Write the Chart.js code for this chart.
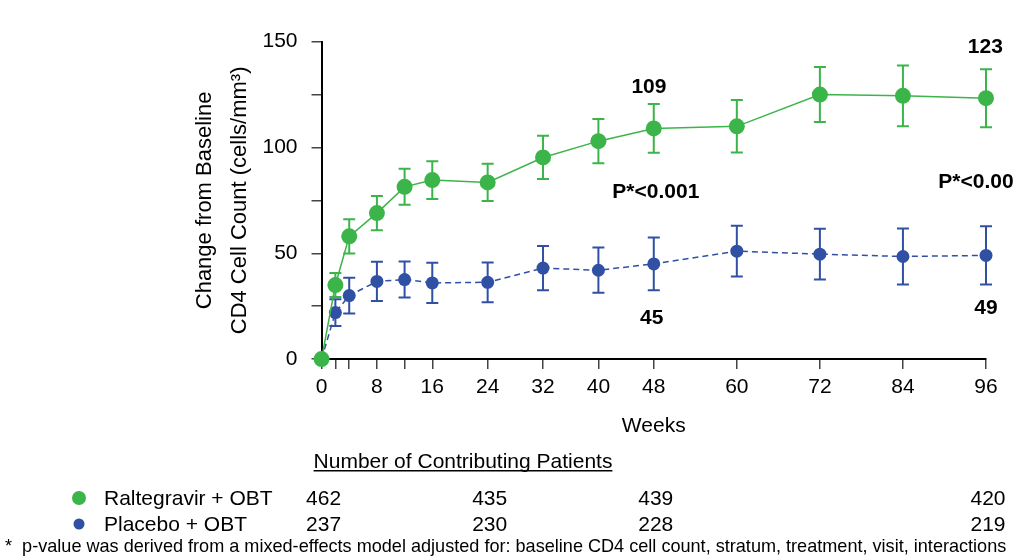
<!DOCTYPE html>
<html>
<head>
<meta charset="utf-8">
<script src="https://cdn.jsdelivr.net/npm/chart.js@4"></script>
<style>
  body { margin: 0; background: #fff; }
  #wrap { width: 1015px; height: 559px; }
</style>
</head>
<body>
<div id="wrap"><canvas id="cd4Chart" width="1015" height="559"></canvas></div>
<script>
// weeks where values were measured (also where x tick marks go)
var weeks = [0, 2, 4, 8, 12, 16, 24, 32, 40, 48, 60, 72, 84, 96];
var labelWeeks = [0, 8, 16, 24, 32, 40, 48, 60, 72, 84, 96];

// mean change from baseline, and half-length of the error bars
var raltMean = [0, 35, 58, 69, 81.4, 84.6, 83.5, 95.3, 103, 109, 110, 125, 124.4, 123.3];
var raltErr  = [0, 5.7, 8.1, 8.1, 8.5, 8.9, 8.8, 10.2, 10.5, 11.5, 12.4, 13, 14.4, 13.7];
var placMean = [0, 22, 30, 36.7, 37.6, 36, 36.3, 43, 42, 45, 51, 49.6, 48.5, 49];
var placErr  = [0, 6.3, 8.5, 9.3, 8.5, 9.5, 9.4, 10.5, 10.7, 12.5, 12, 12, 13.2, 13.8];

// number of contributing patients
var tableWeeks = [0, 24, 48, 96];
var raltN = [462, 435, 439, 420];
var placN = [237, 230, 228, 219];

// bold notes written on the plot
var noteText  = ['109', 'P*<0.001', '45', '123', 'P*<0.001', '49'];
var noteWeek  = [47.3, 48.3, 47.7, 95.9, 95.4, 96];
var noteValue = [128.5, 79, 19.2, 147.4, 83.8, 24];

var green = '#3bb54a';
var blue = '#3050a3';
var font = 'Arial, "Liberation Sans", sans-serif';

const toPts = (xs, ys) => xs.map((x, i) => ({x: x, y: ys[i]}));

// error bars for one dataset, drawn just before its line and points
const errorBars = {
    id: 'errorBars',
    beforeDatasetDraw: (chart, args) => {
        let ds = chart.data.datasets[args.index];
        let ctx = chart.ctx;
        let xs = chart.scales.x, ys = chart.scales.y;
        ctx.save();
        ctx.strokeStyle = ds.borderColor;
        ctx.lineWidth = 2;
        ds.data.forEach((p, i) => {
            let e = ds.errors[i];
            if (!e) return;
            let px = xs.getPixelForValue(p.x);
            let top = ys.getPixelForValue(p.y + e);
            let bot = ys.getPixelForValue(p.y - e);
            ctx.beginPath();
            ctx.moveTo(px, top); ctx.lineTo(px, bot);
            ctx.moveTo(px - 6, top); ctx.lineTo(px + 6, top);
            ctx.moveTo(px - 6, bot); ctx.lineTo(px + 6, bot);
            ctx.stroke();
        });
        ctx.restore();
    }
};

// notes, patient table and footnote
const extras = {
    id: 'extras',
    afterDraw: (chart) => {
        let ctx = chart.ctx;
        let xs = chart.scales.x, ys = chart.scales.y;
        ctx.save();
        ctx.fillStyle = '#000';
        ctx.textAlign = 'center';
        ctx.textBaseline = 'middle';
        ctx.font = 'bold 21px ' + font;
        noteText.forEach((t, i) => {
            ctx.fillText(t, xs.getPixelForValue(noteWeek[i]), ys.getPixelForValue(noteValue[i]));
        });

        ctx.font = '21px ' + font;
        let head = 'Number of Contributing Patients';
        ctx.fillText(head, 463, 462);
        let w = ctx.measureText(head).width;
        ctx.fillRect(463 - w / 2, 470, w, 1.5);

        let rows = [[green, 'Raltegravir + OBT', raltN, 499, 7], [blue, 'Placebo + OBT', placN, 525, 5.5]];
        rows.forEach((r) => {
            ctx.fillStyle = r[0];
            ctx.beginPath();
            ctx.arc(79, r[3] - 1, r[4], 0, Math.PI * 2);
            ctx.fill();
            ctx.fillStyle = '#000';
            ctx.textAlign = 'left';
            ctx.fillText(r[1], 104, r[3]);
            ctx.textAlign = 'center';
            r[2].forEach((n, i) => {
                ctx.fillText(n, xs.getPixelForValue(tableWeeks[i]) + 2, r[3]);
            });
        });

        ctx.textAlign = 'left';
        ctx.font = '18.1px ' + font;
        ctx.fillText('*  p-value was derived from a mixed-effects model adjusted for: baseline CD4 cell count, stratum, treatment, visit, interactions', 5, 547);
        ctx.restore();
    }
};

var cd4Chart = new Chart(document.getElementById('cd4Chart'), {
    type: 'line',
    data: {
        datasets: [
            {
                label: 'Raltegravir + OBT',
                data: toPts(weeks, raltMean),
                errors: raltErr,
                borderColor: green,
                backgroundColor: green,
                borderWidth: 1.5,
                pointRadius: 8,
                pointBorderWidth: 0,
                tension: 0,
                clip: false
            },
            {
                label: 'Placebo + OBT',
                data: toPts(weeks, placMean),
                errors: placErr,
                borderColor: blue,
                backgroundColor: blue,
                borderWidth: 1.5,
                borderDash: [6, 4],
                pointRadius: 6.5,
                pointBorderWidth: 0,
                tension: 0,
                clip: false
            }
        ]
    },
    options: {
        responsive: false,
        animation: false,
        layout: { padding: { left: 187.4, right: 29, top: 41.7, bottom: 120 } },
        plugins: { legend: { display: false }, tooltip: { enabled: false } },
        scales: {
            x: {
                type: 'linear',
                min: 0,
                max: 96,
                afterBuildTicks: (scale) => { scale.ticks = weeks.map((v) => ({value: v})); },
                ticks: {
                    autoSkip: false,
                    maxRotation: 0,
                    padding: 6,
                    color: '#000',
                    font: { family: font, size: 21 },
                    callback: (v) => labelWeeks.includes(v) ? v : ''
                },
                grid: { drawOnChartArea: false, drawTicks: true, tickLength: 10, color: '#444', lineWidth: 1.5 },
                border: { display: true, color: '#000', width: 2 },
                title: {
                    display: true,
                    text: 'Weeks',
                    color: '#000',
                    font: { family: font, size: 21 },
                    padding: { top: 7.5, bottom: 0 }
                }
            },
            y: {
                min: 0,
                max: 150,
                ticks: {
                    stepSize: 25,
                    padding: 14,
                    color: '#000',
                    font: { family: font, size: 21 },
                    callback: (v) => v % 50 === 0 ? v : ''
                },
                grid: { drawOnChartArea: false, drawTicks: true, tickLength: 10, color: '#444', lineWidth: 1.5 },
                border: { display: true, color: '#000', width: 2 },
                title: {
                    display: true,
                    text: ['Change from Baseline', 'CD4 Cell Count (cells/mm\u00b3)'],
                    color: '#000',
                    font: { family: font, size: 22, lineHeight: 1.6 },
                    padding: { top: 0, bottom: -9.3 }
                }
            }
        }
    },
    plugins: [errorBars, extras]
});
</script>
</body>
</html>
